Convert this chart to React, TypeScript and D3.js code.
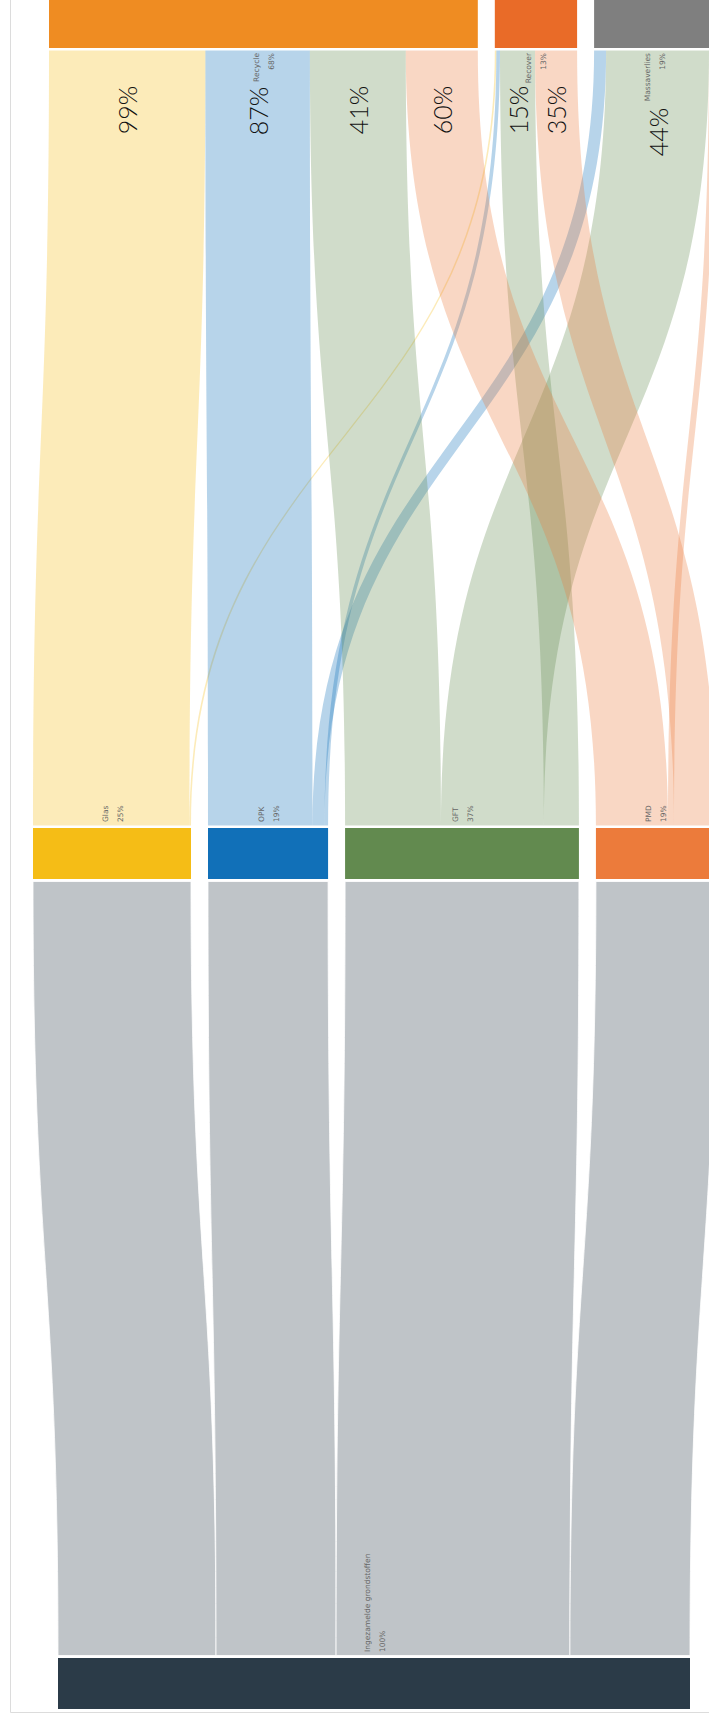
import React from 'react';
import * as d3 from 'd3';

// ---------- data ----------
const sourceName = 'Ingezamelde grondstoffen';
const sourceShare = 100;
const streams = ['Glas', 'OPK', 'GFT', 'PMD'];
const streamShares = [25, 19, 37, 19];
const outcomes = ['Recycle', 'Recover', 'Massaverlies'];
const outcomeShares = [68, 13, 19];
// % of each stream going to each outcome
const pctRecycle = [99, 87, 41, 60];
const pctMassaverlies = [0, 10, 44, 5];
const pctRecover = [1, 3, 15, 35];

// ---------- style ----------
const sourceColor = '#2b3b48';
const streamColors = ['#f5bd16', '#1170b8', '#628a4f', '#ec7b3b'];
const outcomeColors = ['#ef8c22', '#e96b28', '#7f7f7f'];

const W = 709;
const H = 1720;
const PAD = 17;
const LINK_GAP = 2.5;
const layerY = { top: [-3, 48], mid: [828, 879], bot: [1658, 1709] };
const layerX0 = { top: 49, mid: 33, bot: 58 };

type Node = { name: string; value: number; color: string; x0: number; x1: number; y0: number; y1: number; share: number };
type Link = { s: Node; t: Node; value: number; pct: number; sx0: number; sx1: number; tx0: number; tx1: number };

function band(l: Link, ys: number, yt: number) {
  const p = d3.path();
  const ym = (ys + yt) / 2;
  p.moveTo(l.sx0, ys);
  p.bezierCurveTo(l.sx0, ym, l.tx0, ym, l.tx0, yt);
  p.lineTo(l.tx1, yt);
  p.bezierCurveTo(l.tx1, ym, l.sx1, ym, l.sx1, ys);
  p.closePath();
  return p.toString();
}

export default function App() {
  const k = d3.scaleLinear().domain([0, sourceShare]).range([0, 632]);

  const outcomePcts = [pctRecycle, pctRecover, pctMassaverlies];
  const srcOrder = [0, 2, 1]; // stacking at the stream: Recycle, Massaverlies, Recover

  const place = (vals: number[], x0: number) => {
    let x = x0;
    return vals.map((v) => {
      const a = x;
      x += k(v) + PAD;
      return [a, a + k(v)];
    });
  };

  const botNode: Node = {
    name: sourceName, value: sourceShare, color: sourceColor, share: sourceShare,
    x0: layerX0.bot, x1: layerX0.bot + k(sourceShare), y0: layerY.bot[0], y1: layerY.bot[1],
  };
  const midPos = place(streamShares, layerX0.mid);
  const midNodes: Node[] = streams.map((n, i) => ({
    name: n, value: streamShares[i], color: streamColors[i], share: streamShares[i],
    x0: midPos[i][0], x1: midPos[i][1], y0: layerY.mid[0], y1: layerY.mid[1],
  }));
  const outVals = outcomes.map((_, j) => d3.sum(streamShares, (s, i) => (s * outcomePcts[j][i]) / 100));
  const topPos = place(outVals, layerX0.top);
  const topNodes: Node[] = outcomes.map((n, j) => ({
    name: n, value: outVals[j], color: outcomeColors[j], share: outcomeShares[j],
    x0: topPos[j][0], x1: topPos[j][1], y0: layerY.top[0], y1: layerY.top[1],
  }));

  // bottom -> middle links
  let bx = botNode.x0;
  const grayLinks: Link[] = midNodes.map((m) => {
    const w = k(m.value);
    const l = { s: botNode, t: m, value: m.value, pct: 100, sx0: bx, sx1: bx + w, tx0: m.x0, tx1: m.x1 };
    bx += w;
    return l;
  });

  // middle -> top links
  const flowLinks: Link[] = [];
  const srcCursor = midNodes.map((m) => m.x0);
  midNodes.forEach((m, i) => {
    srcOrder.forEach((j) => {
      const pct = outcomePcts[j][i];
      if (pct <= 0) return;
      const v = (m.value * pct) / 100;
      const w = k(v);
      flowLinks.push({ s: m, t: topNodes[j], value: v, pct, sx0: srcCursor[i], sx1: srcCursor[i] + w, tx0: 0, tx1: 0 });
      srcCursor[i] += w;
    });
  });
  topNodes.forEach((t) => {
    let x = t.x0;
    flowLinks
      .filter((l) => l.t === t)
      .sort((a, b) => a.s.x0 - b.s.x0)
      .forEach((l) => {
        l.tx0 = x;
        l.tx1 = x + k(l.value);
        x = l.tx1;
      });
  });

  const labelFont = "'DejaVu Sans', sans-serif";
  const nameSize = 7.5;
  const nameLen = (s: string) => s.length * nameSize * 0.56;
  const topLabelY = layerY.top[1] + 5;

  const nodeLabel = (n: Node, y: number, anchor: 'start' | 'end') => {
    const cx = (n.x0 + n.x1) / 2;
    return (
      <g key={'lab' + n.name} transform={`translate(${cx},${y}) rotate(-90)`} fontFamily={labelFont} fontSize={nameSize} fill="#666" textAnchor={anchor}>
        <text y={-7} dominantBaseline="central">{n.name}</text>
        <text y={8} dominantBaseline="central">{`${n.share}%`}</text>
      </g>
    );
  };

  const pctSize = 25;
  const pctLen = 41;

  return (
    <svg width={W} height={H} style={{ position: 'absolute', left: 0, top: 0, background: '#fff' }}>
      {/* frame */}
      <line x1={10.5} y1={0} x2={10.5} y2={1712.5} stroke="#dcdcdc" strokeWidth={1} />
      <line x1={10.5} y1={1712.5} x2={W} y2={1712.5} stroke="#dcdcdc" strokeWidth={1} />

      {/* gray links */}
      {grayLinks.map((l, i) => (
        <path key={'g' + i} d={band(l, l.s.y0 - LINK_GAP, l.t.y1 + LINK_GAP)} fill={l.s.color} fillOpacity={0.3} stroke="#fff" strokeWidth={0.8} />
      ))}
      {/* flow links */}
      {flowLinks.map((l, i) => (
        <path key={'f' + i} d={band(l, l.s.y0 - LINK_GAP, l.t.y1 + LINK_GAP)} fill={l.s.color} fillOpacity={0.3} />
      ))}

      {/* nodes */}
      {[botNode, ...midNodes, ...topNodes].map((n) => (
        <rect key={n.name} x={n.x0} y={n.y0} width={n.x1 - n.x0} height={n.y1 - n.y0} fill={n.color} />
      ))}

      {/* node labels */}
      {topNodes.map((n) => nodeLabel(n, topLabelY, 'end'))}
      {midNodes.map((n) => nodeLabel(n, n.y0 - 6, 'start'))}
      {nodeLabel(botNode, botNode.y0 - 6, 'start')}

      {/* percentage labels on flows */}
      {flowLinks
        .filter((l) => l.value > 3)
        .map((l, i) => {
          const cx = (l.tx0 + l.tx1) / 2;
          const tcx = (l.t.x0 + l.t.x1) / 2;
          let cy = 110;
          if (Math.abs(cx - tcx) < 16) {
            cy = Math.max(cy, topLabelY + nameLen(l.t.name) + 8 + pctLen / 2);
          }
          return (
            <text
              key={'p' + i}
              transform={`translate(${cx},${cy}) rotate(-90)`}
              textAnchor="middle"
              dominantBaseline="central"
              fontFamily="Lato, 'Open Sans', sans-serif"
              fontWeight={300}
              fontSize={pctSize}
              fill="#111"
            >
              {`${l.pct}%`}
            </text>
          );
        })}
    </svg>
  );
}
